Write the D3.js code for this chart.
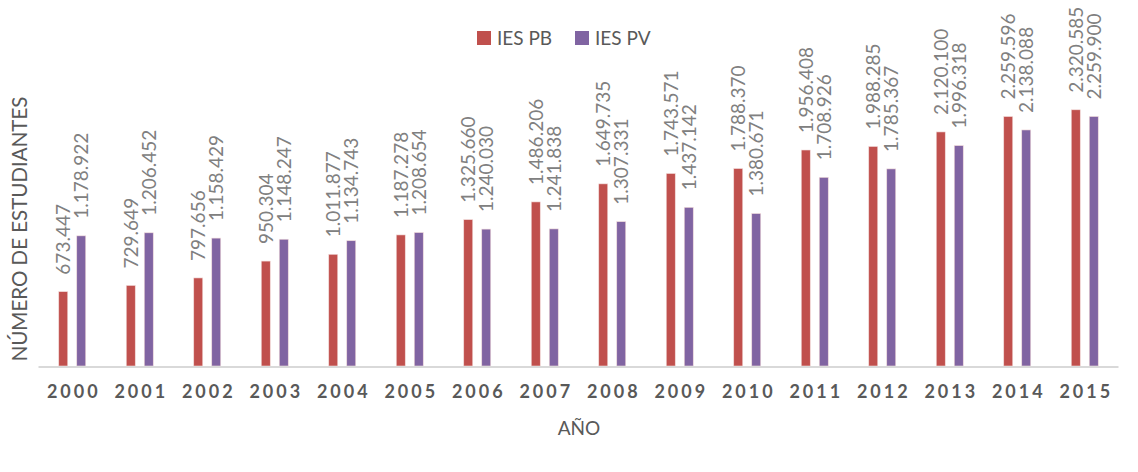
<!DOCTYPE html>
<html>
<head>
<meta charset="utf-8">
<script src="https://cdn.jsdelivr.net/npm/d3@7"></script>
<style>
  body { margin: 0; background: #fff; }
  svg { font-family: Lato, "Open Sans", sans-serif; }
</style>
</head>
<body>
<svg id="chart" width="1138" height="472"></svg>
<script>
const years = ["2000", "2001", "2002", "2003", "2004", "2005", "2006", "2007",
    "2008", "2009", "2010", "2011", "2012", "2013", "2014", "2015"];
const iesPB = [673447, 729649, 797656, 950304, 1011877, 1187278, 1325660, 1486206,
    1649735, 1743571, 1788370, 1956408, 1988285, 2120100, 2259596, 2320585];
const iesPV = [1178922, 1206452, 1158429, 1148247, 1134743, 1208654, 1240030, 1241838,
    1307331, 1437142, 1380671, 1708926, 1785367, 1996318, 2138088, 2259900];
const seriesNames = ["IES PB", "IES PV"];
const seriesColors = ["#C0504D", "#8064A2"];

const svg = d3.select("#chart"),
    left = 38.5,
    right = 1118.5,
    baseY = 366,
    topY = 90;

const x = d3.scaleBand()
    .domain(years)
    .range([left, right]);

const y = d3.scaleLinear()
    .domain([0, 2500000])
    .range([baseY, topY]);

const fmt = function (v) {
    return d3.format(",")(v).replace(/,/g, ".");
};

const series = [iesPB, iesPV];
const barW = 9,
    offsets = [-13.5, 4.5];

// Bars and their rotated value labels
series.forEach(function (values, si) {
    const g = svg.append("g").attr("class", "series-" + si);
    g.selectAll("rect")
        .data(values)
        .enter()
        .append("rect")
        .attr("x", function (d, i) { return x(years[i]) + x.bandwidth() / 2 + offsets[si]; })
        .attr("y", function (d) { return y(d); })
        .attr("width", barW)
        .attr("height", function (d) { return baseY - y(d); })
        .attr("fill", seriesColors[si])
        .attr("stroke", "#f2dcdb")
        .attr("stroke-width", 0.6);

    g.selectAll("text")
        .data(values)
        .enter()
        .append("text")
        .attr("transform", function (d, i) {
            const cx = x(years[i]) + x.bandwidth() / 2 + offsets[si] + barW / 2;
            return "translate(" + cx + "," + (y(d) - 17) + ") rotate(-90)";
        })
        .attr("dy", "0.36em")
        .attr("font-size", 19)
        .attr("fill", "#808080")
        .text(fmt);
});

// Baseline
svg.append("line")
    .attr("x1", left)
    .attr("x2", right)
    .attr("y1", baseY + 1)
    .attr("y2", baseY + 1)
    .attr("stroke", "#d9d9d9")
    .attr("stroke-width", 2);

// X axis labels
const xAxis = svg.append("g")
    .attr("transform", "translate(0," + (baseY + 1) + ")")
    .call(d3.axisBottom(x).tickSize(0).tickPadding(0));
xAxis.select(".domain").remove();
xAxis.selectAll("text")
    .attr("y", 31)
    .attr("dy", null)
    .attr("dx", "1.5px")
    .attr("font-family", "Lato, sans-serif")
    .attr("font-size", 18)
    .attr("font-weight", "bold")
    .attr("letter-spacing", "3px")
    .attr("fill", "#595959");

// Axis titles
svg.append("text")
    .attr("x", 579)
    .attr("y", 435)
    .attr("text-anchor", "middle")
    .attr("font-size", 19)
    .attr("fill", "#595959")
    .text("AÑO");

svg.append("text")
    .attr("transform", "translate(27,229) rotate(-90)")
    .attr("text-anchor", "middle")
    .attr("font-size", 20.5)
    .attr("fill", "#595959")
    .text("NÚMERO DE ESTUDIANTES");

// Legend
const legendX = [477, 575];
const legend = svg.append("g")
    .selectAll("g")
    .data(seriesNames)
    .enter()
    .append("g")
    .attr("transform", function (d, i) { return "translate(" + legendX[i] + ",31)"; });
legend.append("rect")
    .attr("width", 14)
    .attr("height", 14)
    .attr("fill", function (d, i) { return seriesColors[i]; });
legend.append("text")
    .attr("x", 20)
    .attr("y", 14)
    .attr("font-size", 19)
    .attr("fill", "#595959")
    .text(function (d) { return d; });
</script>
</body>
</html>
